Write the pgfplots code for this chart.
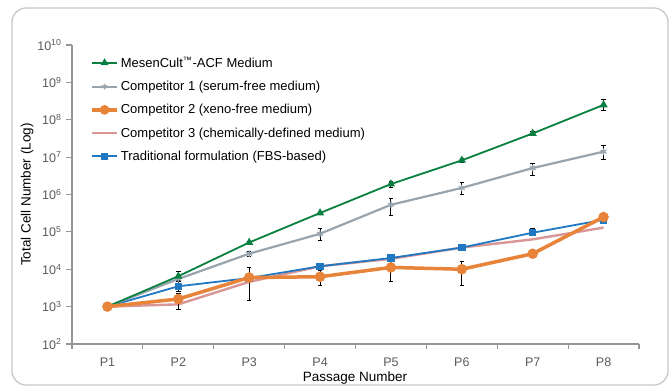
\documentclass[border=0pt]{standalone}
\usepackage{pgfplots}
\pgfplotsset{compat=1.18}
\usepackage{pgfplotstable}
\usepackage{fontspec}
\setmainfont{Liberation Sans}
\definecolor{cgreen}{RGB}{10,128,64}
\definecolor{cgray}{RGB}{152,164,174}
\definecolor{corange}{RGB}{232,131,58}
\definecolor{cpink}{RGB}{217,150,150}
\definecolor{cblue}{RGB}{31,120,193}
\definecolor{axgray}{RGB}{150,150,150}
\definecolor{tickgray}{RGB}{90,90,90}

\pgfplotstableread{
x y
0 1000
1 6500
2 52000
3 320000
4 1.9e6
5 8.2e6
6 4.3e7
7 2.5e8
}\green
\pgfplotstableread{
x y ep em
1 6500 2500 1500
4 1.9e6 0.4e6 0.4e6
5 8.2e6 0.8e6 0.8e6
6 4.3e7 0.5e7 0.5e7
7 2.5e8 0.9e8 0.7e8
}\greenerr
\pgfplotstableread{
x y
0 1000
1 5500
2 2.6e4
3 8.9e4
4 5.3e5
5 1.5e6
6 5.1e6
7 1.4e7
}\gray
\pgfplotstableread{
x y ep em
2 2.6e4 0.4e4 0.4e4
3 8.9e4 3.5e4 3.0e4
4 5.3e5 2.5e5 2.5e5
5 1.5e6 0.6e6 0.5e6
6 5.1e6 1.8e6 1.8e6
7 1.4e7 0.7e7 0.55e7
}\grayerr
\pgfplotstableread{
x y
0 1000
1 1600
2 6000
3 6300
4 1.12e4
5 1.0e4
6 2.6e4
7 2.5e5
}\orange
\pgfplotstableread{
x y ep em
1 1600 700 750
2 6000 5500 4500
3 6300 3500 2600
4 1.12e4 1.1e4 0.65e4
5 1.0e4 0.65e4 0.63e4
}\orangeerr
\pgfplotstableread{
x y
0 1000
1 1150
2 4600
3 1.2e4
4 1.9e4
5 3.8e4
6 6.3e4
7 1.3e5
}\pink
\pgfplotstableread{
x y
0 1000
1 3500
2 5800
3 1.2e4
4 2.0e4
5 3.8e4
6 9.5e4
7 2.1e5
}\blue
\pgfplotstableread{
x y ep em
1 3500 1200 900
3 1.2e4 0.25e4 0.25e4
4 2.0e4 0.2e4 0.2e4
6 9.5e4 2.5e4 1.5e4
7 2.1e5 0.4e5 0.3e5
}\blueerr

\begin{document}
\begin{tikzpicture}[x=1pt,y=1pt]
\useasboundingbox (0,0) rectangle (670,387);
\draw[rounded corners=14pt, draw={rgb,255:red,200;green,200;blue,200}, line width=1.3pt] (12,2) rectangle (668,379);
\begin{axis}[
  at={(72pt,43pt)}, anchor=south west,
  scale only axis, width=567pt, height=299pt,
  ymode=log, ymin=1e2, ymax=1e10,
  xmin=-0.5, xmax=7.5,
  axis lines=left,
  axis line style={draw=axgray, line width=1.1pt, -},
  xtick={0,...,7},
  xticklabels={P1,P2,P3,P4,P5,P6,P7,P8},
  major x tick style={draw=none},
  minor xtick={-0.5,0.5,...,7.5},
  minor x tick style={draw=axgray, line width=1.1pt},
  minor tick length=5pt,
  ytick={1e2,1e3,1e4,1e5,1e6,1e7,1e8,1e9,1e10},
  yticklabels={10\textsuperscript{2},10\textsuperscript{3},10\textsuperscript{4},10\textsuperscript{5},10\textsuperscript{6},10\textsuperscript{7},10\textsuperscript{8},10\textsuperscript{9},10\textsuperscript{10}},
  yminorticks=false,
  major y tick style={draw=axgray, line width=1.1pt},
  major tick length=6pt,
  tick align=outside,
  tick label style={font=\fontsize{12.5}{14}\selectfont, text=tickgray},
  xticklabel style={yshift=-4pt},
  yticklabel style={xshift=-1pt},
  xlabel={Passage Number},
  ylabel={Total Cell Number (Log)},
  every axis x label/.style={at={(axis description cs:0.499,-0.114)}, anchor=center, font=\fontsize{13.5}{15}\selectfont},
  every axis y label/.style={at={(axis description cs:-0.079,0.5)}, anchor=center, rotate=90, font=\fontsize{13.5}{15}\selectfont},
  legend style={draw=none, fill=none, at={(axis description cs:0.032,0.968)}, anchor=north west,
    font=\fontsize{13}{15}\selectfont, row sep=8.3pt, inner sep=0pt},
  legend cell align=left,
  legend image code/.code={\draw[mark repeat=2,mark phase=2] plot coordinates {(0pt,0pt) (12.5pt,0pt) (25pt,0pt)};},
  error bars/error bar style={draw=black, line width=0.9pt, solid},
  error bars/error mark options={rotate=90, mark size=2.3pt, draw=black, line width=0.9pt},
  clip=false,
]
\addlegendimage{cgreen, line width=1.8pt, mark=triangle*, mark size=2.8pt, mark options={fill=cgreen}}
\addlegendentry{MesenCult\textsuperscript{™}-ACF Medium}
\addlegendimage{cgray, line width=2.2pt, mark=asterisk, mark size=3pt, mark options={line width=1pt}}
\addlegendentry{Competitor 1 (serum-free medium)}
\addlegendimage{corange, line width=3.5pt, mark=*, mark size=3pt}
\addlegendentry{Competitor 2 (xeno-free medium)}
\addlegendimage{cpink, line width=2.2pt}
\addlegendentry{Competitor 3 (chemically-defined medium)}
\addlegendimage{cblue, line width=1.8pt, mark=square*, mark size=2.5pt}
\addlegendentry{Traditional formulation (FBS-based)}

\addplot[forget plot, cpink, line width=2.4pt] table[x=x,y=y] {\pink};
\addplot[forget plot, cblue, line width=1.8pt, mark=square*, mark size=2.8pt] table[x=x,y=y] {\blue};
\addplot[forget plot, cgray, line width=2.2pt, mark=asterisk, mark size=3.4pt, mark options={line width=1.2pt}] table[x=x,y=y] {\gray};
\addplot[forget plot, cgreen, line width=1.8pt, mark=triangle*, mark size=3pt] table[x=x,y=y] {\green};
\addplot[forget plot, corange, line width=3.5pt, mark=*, mark size=3.4pt] table[x=x,y=y] {\orange};

\addplot[forget plot, draw=none, mark=none, error bars/.cd, y dir=both, y explicit] table[x=x,y=y,y error plus=ep,y error minus=em] {\greenerr};
\addplot[forget plot, draw=none, mark=none, error bars/.cd, y dir=both, y explicit] table[x=x,y=y,y error plus=ep,y error minus=em] {\grayerr};
\addplot[forget plot, draw=none, mark=none, error bars/.cd, y dir=both, y explicit] table[x=x,y=y,y error plus=ep,y error minus=em] {\orangeerr};
\addplot[forget plot, draw=none, mark=none, error bars/.cd, y dir=both, y explicit] table[x=x,y=y,y error plus=ep,y error minus=em] {\blueerr};
\end{axis}
\end{tikzpicture}
\end{document}
